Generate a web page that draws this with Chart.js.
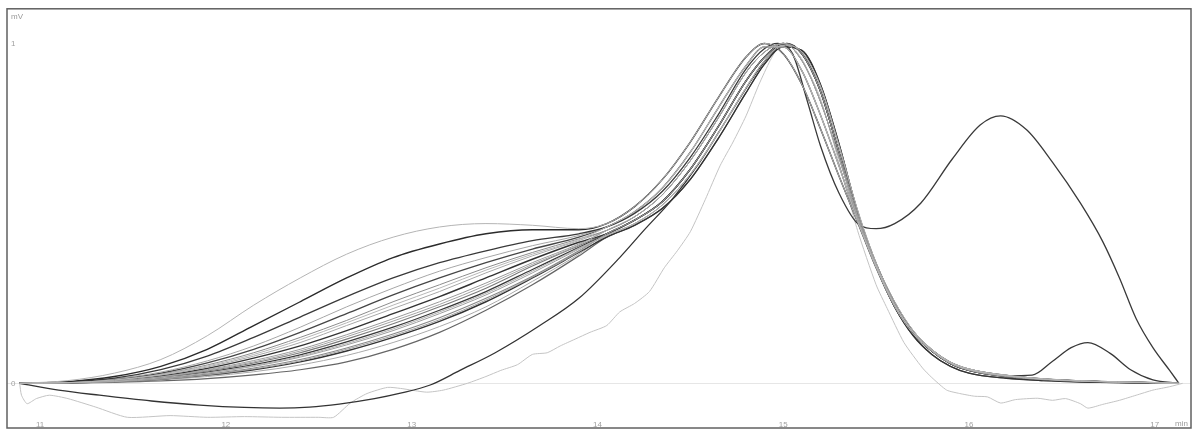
<!DOCTYPE html>
<html>
<head>
<meta charset="utf-8">
<script src="https://cdn.jsdelivr.net/npm/chart.js@4"></script>
<style>
  html, body { margin: 0; padding: 0; background: #fff; }
  #wrap { width: 1200px; height: 435px; }
</style>
</head>
<body>
<div id="wrap"><canvas id="grafic"></canvas></div>
<script>
    // time axis (min) for the rising part, up to the plateau
    const shoulderT = [10.89, 11.15, 11.4, 11.65, 11.9, 12.15, 12.4, 12.65, 12.9, 13.15, 13.4, 13.65, 13.9];
    // time axis (min) for main peak and tail
    const peakT = [14.05, 14.2, 14.35, 14.5, 14.65, 14.8, 14.9, 15.0, 15.1, 15.2, 15.3, 15.4, 15.5, 15.6, 15.7, 15.8, 15.9, 16.0, 16.2, 16.4, 16.6, 16.8, 17.0, 17.13];
    const xTicks = [11, 12, 13, 14, 15, 16, 17];
    const yTicks = [0, 1];

    // normalised signal, plateau part of each run
    const s1  = [0, .008, .03, .07, .14, .23, .31, .38, .43, .46, .47, .465, .455];
    const s2  = [0, .005, .02, .05, .10, .17, .24, .31, .37, .41, .44, .452, .452];
    const s3  = [0, .004, .015, .04, .08, .135, .195, .255, .31, .355, .39, .42, .44];
    const s4  = [0, .004, .013, .033, .066, .11, .165, .225, .28, .33, .37, .405, .435];
    const s5  = [0, .003, .012, .03, .06, .10, .15, .205, .26, .31, .355, .395, .43];
    const s6  = [0, .003, .011, .027, .054, .09, .135, .185, .24, .29, .34, .385, .425];
    const s7  = [0, .003, .01, .024, .048, .08, .12, .17, .22, .27, .325, .375, .42];
    const s8  = [0, .002, .009, .022, .044, .074, .11, .155, .205, .255, .31, .365, .415];
    const s9  = [0, .002, .008, .02, .04, .067, .10, .143, .19, .24, .295, .355, .41];
    const s10 = [0, .002, .007, .018, .036, .06, .09, .13, .175, .225, .28, .345, .405];
    const s11 = [0, .002, .007, .017, .033, .055, .084, .122, .165, .215, .27, .335, .40];
    const s12 = [0, .002, .006, .015, .03, .05, .077, .113, .155, .205, .26, .325, .395];
    const s13 = [0, .001, .005, .013, .027, .045, .07, .104, .145, .193, .25, .315, .39];
    const s14 = [0, .001, .005, .012, .024, .04, .063, .095, .135, .182, .24, .31, .385];
    const s15 = [0, .001, .004, .01, .02, .034, .054, .082, .12, .167, .225, .30, .38];
    const s16 = [0, .001, .003, .007, .014, .025, .04, .063, .10, .15, .215, .29, .375];
    const s17 = [0, .002, .008, .019, .038, .063, .095, .137, .183, .232, .288, .35, .407];
    const s18 = [0, .002, .006, .016, .031, .052, .08, .117, .16, .21, .265, .33, .398];
    const s19 = [0, .001, .005, .012, .025, .042, .066, .1, .14, .187, .245, .312, .387];
    const s20 = [0, .002, .01, .026, .051, .085, .128, .178, .23, .28, .333, .38, .423];

    // main peak, a few shapes (early to late maximum)
    const pA = [.47, .52, .60, .71, .84, .96, 1.0, .97, .88, .75, .61, .475, .34, .225, .145, .095, .06, .04, .022, .012, .007, .004, .002, 0];
    const pB = [.46, .505, .575, .68, .81, .935, .99, .99, .92, .79, .64, .48, .345, .23, .15, .098, .062, .042, .023, .013, .007, .004, .002, 0];
    const pC = [.45, .49, .555, .655, .78, .915, .975, 1.0, .95, .83, .665, .49, .345, .23, .15, .097, .06, .04, .022, .012, .007, .004, .002, 0];
    const pD = [.44, .48, .535, .63, .755, .89, .96, 1.0, .97, .86, .68, .50, .35, .235, .15, .095, .058, .038, .02, .011, .006, .003, .001, 0];
    const pE = [.435, .47, .525, .615, .735, .87, .95, .995, .975, .875, .70, .51, .355, .24, .155, .10, .062, .042, .024, .013, .007, .004, .002, 0];
    const pF = [.43, .465, .515, .60, .72, .855, .94, .99, .98, .88, .705, .505, .345, .225, .14, .085, .05, .03, .015, .008, .004, .002, .001, 0];

    // run with a second big peak
    const dobleT = [14.05, 14.2, 14.35, 14.5, 14.65, 14.8, 14.9, 14.97, 15.05, 15.13, 15.2, 15.3, 15.41, 15.5, 15.6, 15.74, 15.91, 16.06, 16.17, 16.31, 16.45, 16.6, 16.72, 16.81, 16.9, 16.99, 17.08, 17.13];
    const dobleV = [.46, .50, .565, .665, .79, .925, .985, 1.0, .97, .83, .70, .56, .466, .455, .47, .53, .66, .76, .787, .746, .65, .53, .417, .31, .19, .105, .038, 0];

    // run with a small late bump
    const bultoT = [14.05, 14.2, 14.35, 14.5, 14.65, 14.8, 14.9, 15.0, 15.1, 15.2, 15.3, 15.4, 15.5, 15.6, 15.7, 15.8, 15.9, 16.0, 16.2, 16.34, 16.45, 16.55, 16.64, 16.76, 16.87, 16.99, 17.13];
    const bultoV = [.44, .48, .535, .63, .755, .89, .96, 1.0, .97, .86, .68, .50, .35, .235, .15, .095, .058, .038, .022, .024, .065, .105, .12, .088, .04, .01, 0];

    // run that dips below zero before the peak
    const bajoT = [10.89, 11.1, 11.32, 11.6, 11.86, 12.1, 12.29, 12.45, 12.61, 12.8, 12.94, 13.1, 13.26, 13.45, 13.69, 13.9, 14.12, 14.25, 14.4, 14.55, 14.7, 14.85, 14.95, 15.02, 15.1, 15.2, 15.3, 15.4, 15.5, 15.6, 15.7, 15.8, 15.9, 16.0, 16.2, 16.4, 16.6, 16.8, 17.0, 17.13];
    const bajoV = [0, -.02, -.035, -.052, -.064, -.071, -.073, -.07, -.061, -.045, -.029, -.005, .038, .09, .17, .25, .37, .45, .54, .65, .78, .91, .98, 1.0, .97, .86, .68, .50, .35, .235, .15, .095, .058, .038, .02, .011, .006, .003, .001, 0];

    // noisy light run
    const ruidoT = [10.89, 10.9, 10.93, 10.98, 11.05, 11.15, 11.3, 11.47, 11.7, 11.9, 12.1, 12.3, 12.5, 12.58, 12.67, 12.76, 12.87, 12.94, 13.08, 13.17, 13.3, 13.4, 13.48, 13.57, 13.65, 13.73, 13.8, 13.88, 13.96, 14.05, 14.12, 14.2, 14.28, 14.36, 14.43, 14.5, 14.58, 14.66, 14.73, 14.8, 14.87, 14.93, 14.98, 15.03, 15.1, 15.2, 15.3, 15.4, 15.5, 15.56, 15.65, 15.75, 15.8, 15.88, 15.95, 16.03, 16.1, 16.17, 16.25, 16.37, 16.45, 16.52, 16.6, 16.64, 16.72, 16.81, 16.9, 16.99, 17.08, 17.15];
    const ruidoV = [0, -.035, -.06, -.045, -.035, -.045, -.07, -.1, -.095, -.1, -.098, -.1, -.1, -.1, -.058, -.03, -.012, -.015, -.026, -.02, 0, .02, .038, .055, .085, .09, .11, .13, .15, .17, .21, .235, .27, .34, .39, .446, .54, .64, .71, .787, .88, .95, .995, 1.0, .955, .84, .65, .45, .29, .22, .12, .045, .017, -.02, -.03, -.038, -.04, -.058, -.048, -.044, -.05, -.045, -.06, -.073, -.062, -.05, -.035, -.02, -.01, 0];

    function puntos(ts, vs) {
        return ts.map((t, i) => ({x: t, y: vs[i]}));
    }

    // plateau + peak pairs, line colour and width
    const corridas = [
        [s1, peakT, pA, '#b4b4b4', 1],
        [s20, peakT, pB, '#b8b8b8', 1],
        [s17, peakT, pC, '#a4a4a4', 1],
        [s18, peakT, pE, '#b0b0b0', 1],
        [s19, peakT, pD, '#a0a0a0', 1],
        [s2, peakT, pA, '#2b2b2b', 1.4],
        [s3, dobleT, dobleV, '#3a3a3a', 1.3],
        [s4, peakT, pB, '#a6a6a6', 1],
        [s5, peakT, pB, '#464646', 1.3],
        [s6, peakT, pC, '#8c8c8c', 1],
        [s7, peakT, pC, '#a8a8a8', 1],
        [s8, peakT, pD, '#333333', 1.4],
        [s9, peakT, pC, '#9a9a9a', 1],
        [s10, peakT, pD, '#7a7a7a', 1.1],
        [s11, bultoT, bultoV, '#383838', 1.3],
        [s12, peakT, pE, '#9c9c9c', 1],
        [s13, peakT, pD, '#888888', 1.1],
        [s14, peakT, pF, '#333333', 1.4],
        [s15, peakT, pE, '#aaaaaa', 1],
        [s16, peakT, pF, '#666666', 1.2]
    ];

    const datasets = corridas.map(c => ({
        data: puntos(shoulderT, c[0]).concat(puntos(c[1], c[2])),
        borderColor: c[3],
        borderWidth: c[4]
    }));
    datasets.push({data: puntos(bajoT, bajoV), borderColor: '#333333', borderWidth: 1.3});
    datasets.push({data: puntos(ruidoT, ruidoV), borderColor: '#c4c4c4', borderWidth: 1, cubicInterpolationMode: 'default', tension: 0.2});

    // frame and unit labels
    const marco = {
        id: 'marco',
        afterDraw(chart) {
            const ctx = chart.ctx;
            const a = chart.chartArea;
            const bottom = chart.scales.x.bottom;
            ctx.save();
            ctx.strokeStyle = '#606060';
            ctx.lineWidth = 1.5;
            ctx.strokeRect(a.left, a.top, a.right - a.left, bottom - a.top);
            ctx.fillStyle = '#9a9a9a';
            ctx.font = '8px "Liberation Sans"';
            ctx.textBaseline = 'middle';
            ctx.fillText('mV', a.left + 4, a.top + 8);
            ctx.fillText('min', a.right - 16, bottom - 4);
            ctx.restore();
        }
    };

    const config = {
        type: 'line',
        data: {datasets: datasets},
        options: {
            responsive: true,
            maintainAspectRatio: false,
            animation: false,
            layout: {padding: {left: 7, right: 9, top: 5, bottom: 7}},
            datasets: {
                line: {
                    pointRadius: 0,
                    fill: false,
                    cubicInterpolationMode: 'monotone'
                }
            },
            plugins: {legend: {display: false}, tooltip: {enabled: false}},
            scales: {
                x: {
                    type: 'linear',
                    min: 10.822,
                    max: 17.195,
                    afterBuildTicks: s => { s.ticks = xTicks.map(v => ({value: v})); },
                    afterFit: s => { s.height = 9; },
                    grid: {display: false, drawTicks: false},
                    border: {display: false},
                    ticks: {padding: 1, color: '#a0a0a0', font: {family: 'Liberation Sans', size: 8}}
                },
                y: {
                    min: -0.105,
                    max: 1.102,
                    afterBuildTicks: s => { s.ticks = yTicks.map(v => ({value: v})); },
                    afterFit: s => { s.width = 0; },
                    grid: {
                        drawTicks: false,
                        color: c => (c.tick && c.tick.value === 0) ? '#e6e6e6' : 'rgba(0,0,0,0)'
                    },
                    border: {display: false},
                    ticks: {mirror: true, padding: 4, color: '#a0a0a0', font: {family: 'Liberation Sans', size: 8}}
                }
            }
        },
        plugins: [marco]
    };

    new Chart(document.getElementById('grafic'), config);
</script>
</body>
</html>
